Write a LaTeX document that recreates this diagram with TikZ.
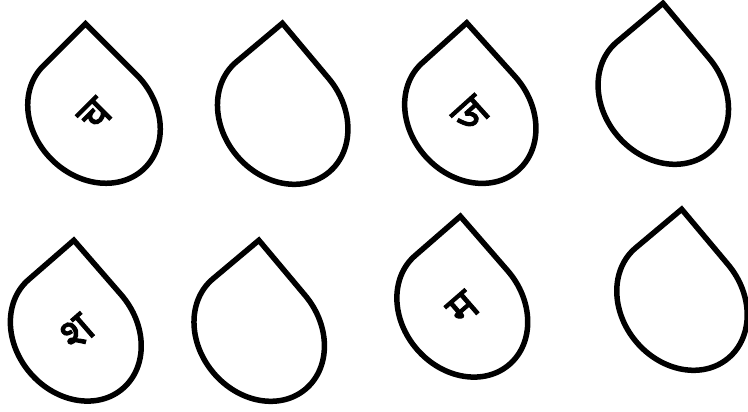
\documentclass[tikz,border=0pt]{standalone}
\usepackage{fontspec}
\newfontfamily\deva[Script=Devanagari, FakeBold=2.5]{Noto Sans}
\tikzset{
  droppath/.style={draw=black, line width=5.5pt, line join=miter, fill=white},
  letter/.style={font=\deva\fontsize{44}{44}\selectfont, inner sep=0pt, text=black}
}
\newcommand\raindrop[3]{%
  \draw[droppath, shift={(#1,412-#2)}, rotate=#3]
    (0,72) -- (60,72) -- (60,0)
    arc[start angle=0, end angle=-270, x radius=60pt, y radius=72pt] -- cycle;}
\begin{document}
\begin{tikzpicture}[x=1pt, y=1pt]
\useasboundingbox (0,0) rectangle (748,412);
\fill[white] (0,0) rectangle (748,412);
\raindrop{94}{117}{45}
\raindrop{282.7}{117}{40}
\raindrop{470.3}{116.5}{42}
\raindrop{663.3}{97}{40}
\raindrop{75.8}{334}{41}
\raindrop{259.2}{334}{40}
\raindrop{462.3}{310}{41}
\raindrop{682}{303}{40}
\node[letter, rotate=45] (cha) at (95,412-115) {च};
\node[letter, rotate=42] (ja) at (471,412-114.5) {ज};
\node[letter, rotate=41] (sha) at (77,412-332) {श};
\node[letter, rotate=41] (ma) at (463,412-308) {म};
\end{tikzpicture}
\end{document}
